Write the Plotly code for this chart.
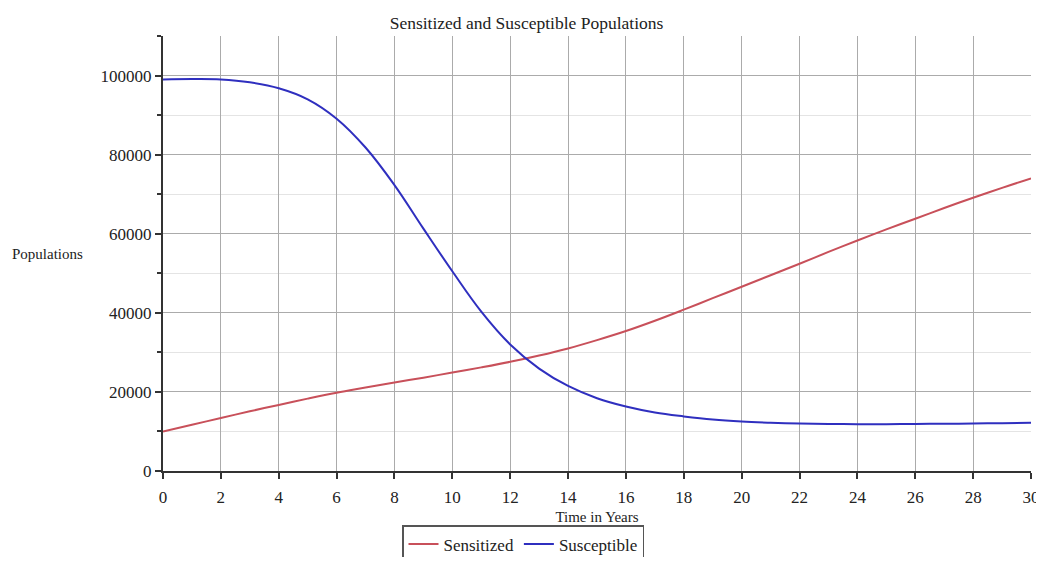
import plotly.graph_objects as go

years = list(range(0, 31))
sensitized = [10000, 11700, 13400, 15100, 16700, 18300, 19800, 21100, 22400, 23600,
              24900, 26200, 27600, 29200, 31000, 33100, 35400, 38000, 40800, 43700,
              46600, 49500, 52400, 55400, 58300, 61100, 63800, 66500, 69100, 71600, 74000]
susceptible = [99000, 99100, 99000, 98300, 96800, 94000, 89100, 81800, 72300, 61300,
               50500, 40300, 32000, 25900, 21500, 18400, 16300, 14800, 13800, 13000,
               12500, 12200, 12000, 11900, 11850, 11850, 11900, 11950, 12000, 12100, 12200]
x_ticks = list(range(0, 31, 2))
y_ticks = [0, 20000, 40000, 60000, 80000, 100000]
y_minor = [10000, 30000, 50000, 70000, 90000, 110000]

FONT = "Liberation Serif"
OFF = 8            # page body margin
W, H = 1036, 549

fig = go.Figure()
fig.add_trace(go.Scatter(x=years, y=sensitized, mode="lines", name="Sensitized",
                         line=dict(color="#c8505a", width=2, shape="spline", smoothing=1.1)))
fig.add_trace(go.Scatter(x=years, y=susceptible, mode="lines", name="Susceptible",
                         line=dict(color="#2f2fbf", width=2, shape="spline", smoothing=1.1)))

fig.update_layout(
    width=W, height=H,
    margin=dict(l=163 - OFF, r=W + OFF - 1031, t=36 - OFF, b=H + OFF - 471, autoexpand=False),
    paper_bgcolor="white", plot_bgcolor="white",
    font=dict(family=FONT, size=16, color="#222222"),
    title=dict(text="Sensitized and Susceptible Populations", x=(526.5 - OFF) / W,
               xanchor="center", y=1 - (23 - OFF) / H, yanchor="middle",
               font=dict(family=FONT, size=17.5, color="#222222")),
    showlegend=True,
    legend=dict(orientation="h", xref="container", yref="container",
                x=(523 - OFF) / W, xanchor="center", y=1 - (525 - OFF) / H, yanchor="top",
                bordercolor="#555555", borderwidth=1.5, bgcolor="white",
                font=dict(family=FONT, size=17, color="#222222"),
                tracegroupgap=0),
)

fig.update_xaxes(range=[0, 30], tickvals=x_ticks, ticktext=[str(v) for v in x_ticks],
                 showgrid=True, gridcolor="#ababab", gridwidth=1,
                 showline=True, linecolor="#333333", linewidth=2,
                 ticks="outside", ticklen=6, tickwidth=2, tickcolor="#333333",
                 tickfont=dict(family=FONT, size=17), ticklabelstandoff=4,
                 zeroline=False, automargin=False,
                 title=dict(text="Time in Years", font=dict(family=FONT, size=15), standoff=8))
fig.update_yaxes(range=[0, 110000], tickvals=y_ticks, ticktext=[str(v) for v in y_ticks],
                 showgrid=True, gridcolor="#ababab", gridwidth=1,
                 showline=True, linecolor="#333333", linewidth=2,
                 ticks="outside", ticklen=6, tickwidth=2, tickcolor="#333333",
                 tickfont=dict(family=FONT, size=17),
                 zeroline=False, automargin=False,
                 minor=dict(tickvals=y_minor,
                            showgrid=True, gridcolor="#e4e4e4", gridwidth=1,
                            ticks="outside", ticklen=4, tickcolor="#333333", tickwidth=2))

fig.add_annotation(text="Populations", x=(48 - 163) / 868, y=(471 - 254) / 435,
                   xref="paper", yref="paper", showarrow=False,
                   xanchor="center", yanchor="middle",
                   font=dict(family=FONT, size=15, color="#222222"))

fig.write_html("out.html")
